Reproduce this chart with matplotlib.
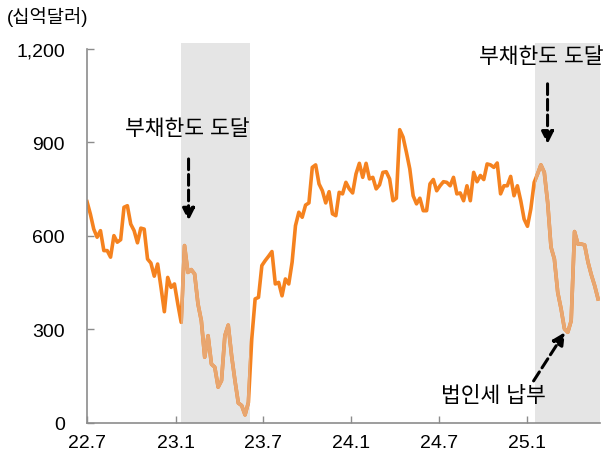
import pandas as pd
import matplotlib
matplotlib.use('Agg')
import matplotlib.pyplot as plt
import matplotlib.dates as mdates

plt.rcParams['font.family'] = ['Liberation Sans', 'Noto Sans CJK KR']

# weekly balance, billion dollars
values = [
    710, 670, 622, 596, 617, 553, 553, 532, 601, 580, 588, 692, 697, 638, 617,
    578, 625, 622, 526, 513, 471, 510, 435, 357, 467, 435, 446, 382, 323,
    569, 483, 492, 478, 382, 328, 211, 280, 189, 179, 115, 136, 280, 314, 216,
    136, 64, 56, 26, 66, 270, 398,
    403, 505, 521, 535, 550, 446, 451, 408, 462, 446, 516, 633, 676, 660, 699,
    706, 820, 828, 767, 745, 706, 742, 671, 665, 740, 735, 772,
    751, 738, 799, 833, 788, 833, 783, 788, 751, 764, 804, 806, 783, 713, 721,
    941, 917, 868, 815, 729, 703, 721, 681, 681, 767, 781, 745, 761,
    774, 772, 761, 788, 735, 738, 713, 761, 713, 804, 774, 794, 781, 831, 828,
    820, 834, 735, 761, 761, 791, 729, 761, 713, 654, 631,
    687, 772, 799, 828, 804, 708, 564, 526, 419, 366, 302, 291, 328, 614, 574,
    574, 571, 516, 475, 440, 398,
]
dates = pd.date_range('2022-07-01', '2025-05-28', periods=len(values))

tick_dates = pd.to_datetime(['2022-07-01', '2023-01-01', '2023-07-01',
                             '2024-01-01', '2024-07-01', '2025-01-01'])
tick_labels = ['22.7', '23.1', '23.7', '24.1', '24.7', '25.1']
y_ticks = [0, 300, 600, 900, 1200]
y_labels = ['0', '300', '600', '900', '1,200']

# debt ceiling periods
shade_spans = [('2023-01-12', '2023-06-05'), ('2025-01-16', '2025-06-01')]

dark = '#F5821F'
light = '#E8A670'
shade = '#E5E5E5'

fig = plt.figure(figsize=(6.06, 4.56), dpi=100)
ax = fig.add_axes([0.1436, 0.0702, 0.8465, 0.834])

patches = []
for s, e in shade_spans:
    p = ax.axvspan(pd.Timestamp(s), pd.Timestamp(e), color=shade, lw=0, zorder=0)
    patches.append(p)

ax.plot(dates, values, color=dark, lw=2.6, zorder=2)
for p in patches:
    ln, = ax.plot(dates, values, color=light, lw=2.6, zorder=3)
    ln.set_clip_path(p)

ax.set_xlim(pd.Timestamp('2022-07-01'), pd.Timestamp('2025-06-01'))
ax.set_ylim(0, 1220)
ax.set_xticks(tick_dates)
ax.set_xticklabels(tick_labels)
ax.set_yticks(y_ticks)
ax.set_yticklabels(y_labels)

for side in ['top', 'right']:
    ax.spines[side].set_visible(False)
for side in ['left', 'bottom']:
    ax.spines[side].set_color('#8c8c8c')
    ax.spines[side].set_linewidth(1.2)
ax.spines['left'].set_bounds(0, 1200)

ax.tick_params(direction='in', length=5, width=1, color='#8c8c8c',
               labelsize=14, labelcolor='black')
ax.tick_params(axis='y', pad=16)
ax.tick_params(axis='x', pad=8)

fig.text(7 / 606, 1 - 17 / 456, '(십억달러)', fontsize=13.5, va='center', ha='left')

arrow = dict(arrowstyle='-|>', linestyle=(0, (3.5, 1.6)), lw=2.2, color='black',
             mutation_scale=18, shrinkA=0, shrinkB=0)

def d(s):
    return mdates.date2num(pd.Timestamp(s))

ax.text(d('2023-01-25'), 945, '부채한도 도달', fontsize=15.5, ha='center', va='center')
ax.annotate('', xy=(d('2023-01-28'), 649), xytext=(d('2023-01-28'), 847),
            arrowprops=arrow)

ax.text(d('2025-01-29'), 1177, '부채한도 도달', fontsize=15.5, ha='center', va='center')
ax.annotate('', xy=(d('2025-02-12'), 895), xytext=(d('2025-02-12'), 1088),
            arrowprops=arrow)

ax.text(d('2024-10-23'), 88, '법인세 납부', fontsize=15.5, ha='center', va='center')
ax.annotate('', xy=(d('2025-03-20'), 291), xytext=(d('2025-01-14'), 135),
            arrowprops=arrow)

fig.savefig('out.png', dpi=100)
